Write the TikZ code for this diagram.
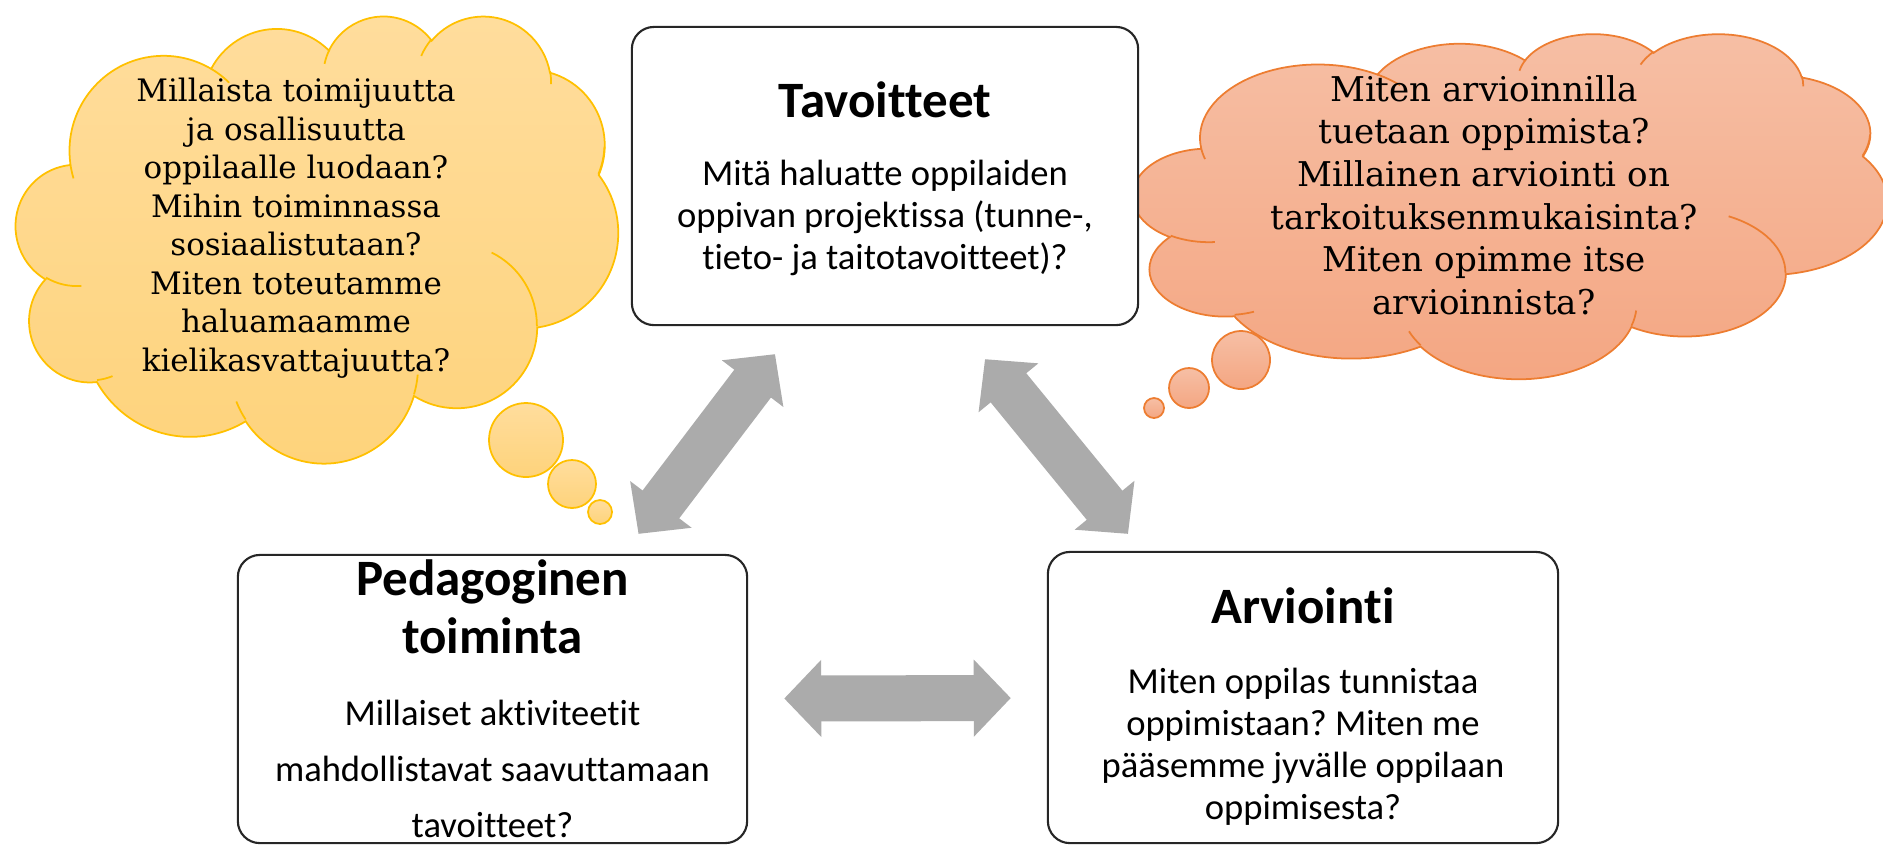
\documentclass[tikz,border=0pt]{standalone}
\usepackage{fontspec}
\setmainfont{Carlito}[Ligatures=CommonOff]
\newfontfamily\cloudfont{DejaVu Serif}
\usetikzlibrary{arrows.meta,calc}
\frenchspacing

\definecolor{goldline}{HTML}{FFC000}
\definecolor{goldtop}{HTML}{FFDD9D}
\definecolor{goldbottom}{HTML}{FED37B}
\definecolor{orangeline}{HTML}{ED7D31}
\definecolor{orangetop}{HTML}{F6BFA5}
\definecolor{orangebottom}{HTML}{F4A682}
\definecolor{arrowgray}{HTML}{ABABAB}

\tikzset{
  % boxes and their texts
  stagebox/.style={draw=black!85, line width=0.6pt, fill=white,
    rounded corners=0.22cm, inner sep=0pt},
  stagetitle/.style={font=\fontsize{14.5}{16.5}\selectfont\bfseries,
    align=center, inner sep=0pt},
  stagetext/.style={font=\fontsize{10.4}{11.95}\selectfont,
    align=center, inner sep=0pt},
  % thought clouds
  goldcloud/.style={draw=goldline, line width=0.5pt,
    top color=goldtop, bottom color=goldbottom},
  orangecloud/.style={draw=orangeline, line width=0.5pt,
    top color=orangetop, bottom color=orangebottom},
  cloudtext/.style={font=\cloudfont\fontsize{8.8}{10.95}\selectfont,
    align=center, inner sep=0pt},
  cloud outline/.style={insert path={(39,143.7)
    \foreach \rx/\ry/\st/\sw
      [evaluate=\st as \ta using {atan2(\rx*sin(\st),\ry*cos(\st))},
       evaluate=\st as \tb using {atan2(\rx*sin((\st)+(\sw)),\ry*cos((\st)+(\sw)))},
       evaluate=\st as \td using {mod(\tb-(\ta)+720,360)}]
      in {67.53/91.90/-190.487/123.781, 53.33/72.67/-144.102/89.945,
          43.65/59.45/-145.808/99.723, 48.57/65.95/-130.986/117.242,
          53.33/72.73/-78.709/109.027, 67.75/92.20/-46.267/130.269,
          57.85/78.67/0.625/114.033, 67.52/92.15/22.452/115.173,
          77.20/105.43/66.243/75.711, 43.60/59.18/-274.942/146.736,
          43.45/59.45/-246.829/152.519}
      { arc[x radius=\rx, y radius=\ry, start angle=\ta, delta angle=\td] }
    -- cycle}},
  cloud creases/.style={insert path={
    \foreach \px/\py/\rx/\ry/\st/\sw
      [evaluate=\st as \ta using {atan2(\rx*sin(\st),\ry*cos(\st))},
       evaluate=\st as \tb using {atan2(\rx*sin((\st)+(\sw)),\ry*cos((\st)+(\sw)))},
       evaluate=\st as \td using {ifthenelse(\sw>0,mod(\tb-(\ta)+720,360),mod(\tb-(\ta)+720,360)-360)}]
      in {46.93/261.77/43.45/59.45/86.742/26.430,
          69.28/348.99/43.60/59.18/73.610/11.447,
          164.78/390.90/67.52/92.15/137.624/14.081,
          288.27/347.51/67.52/92.15/6.453/15.998,
          341.29/229.54/57.85/78.67/-70.292/70.917,
          417.98/153.54/53.33/72.73/30.318/-27.752,
          383.24/54.26/48.57/65.95/-13.744/14.859,
          290.78/39.52/48.57/65.95/-149.181/18.195,
          221.41/47.20/43.65/59.45/-163.494/17.686,
          140.00/51.92/67.53/91.90/-66.707/12.319,
          41.27/157.89/67.53/91.90/157.654/11.858}
      { (\px,\py) arc[x radius=\rx, y radius=\ry, start angle=\ta, delta angle=\td] }
    }},
  % grey double arrows
  twoway/.style={draw=arrowgray, line width=0.46cm,
    {Triangle[width=0.75cm,length=0.37cm]}-{Triangle[width=0.75cm,length=0.37cm]}},
}

\begin{document}
\begin{tikzpicture}[x=0.01cm, y=-0.01cm]
  \useasboundingbox (0,0) rectangle (1883,844);

  % Left cloud
  \begin{scope}[shift={(16,15)}, x=0.01cm, y=0.01cm, xscale=602/432, yscale=-447/432]
    \path[goldcloud] [cloud outline];
    \draw[goldline, line width=0.5pt] [cloud creases];
  \end{scope}
  \path[goldcloud] (526,440) circle[radius=37];
  \path[goldcloud] (572,484) circle[radius=24];
  \path[goldcloud] (600,512) circle[radius=12];
  \node[cloudtext] (agencyq) at (296,228)
    {Millaista toimijuutta\\ja osallisuutta\\oppilaalle luodaan?\\Mihin toiminnassa\\
     sosiaalistutaan?\\Miten toteutamme\\haluamaamme\\kielikasvattajuutta?};

  % Right cloud
  \begin{scope}[shift={(1133,33)}, x=0.01cm, y=0.01cm, xscale=754/432, yscale=-345/432]
    \path[orangecloud] [cloud outline];
    \draw[orangeline, line width=0.5pt] [cloud creases];
  \end{scope}
  \path[orangecloud] (1241,360) circle[radius=29];
  \path[orangecloud] (1189,388) circle[radius=20];
  \path[orangecloud] (1154,408) circle[radius=10];
  \node[cloudtext, font=\cloudfont\fontsize{9.7}{12.1}\selectfont] (assessq) at (1484,195)
    {Miten arvioinnilla\\tuetaan oppimista?\\Millainen arviointi on\\
     tarkoituksenmukaisinta?\\Miten opimme itse\\arvioinnista?};

  % Three boxes
  \node[stagebox, minimum width=5.06cm, minimum height=2.98cm] (goals) at (885,176) {};
  \node[stagebox, minimum width=5.09cm, minimum height=2.88cm] (teaching) at (492.5,699) {};
  \node[stagebox, minimum width=5.10cm, minimum height=2.91cm] (assess) at (1303,697.5) {};

  \node[stagetitle] (goalstitle) at (885,100) {Tavoitteet};
  \node[stagetext] (goalstext) at (885,218)
    {Mitä haluatte oppilaiden\\oppivan projektissa (tunne-,\\tieto- ja taitotavoitteet)?};

  \node[stagetitle] (teachingtitle) at (492.5,607) {Pedagoginen\\toiminta};
  \node[stagetext, font=\fontsize{10.4}{15.9}\selectfont] (teachingtext) at (492.5,769)
    {Millaiset aktiviteetit\\mahdollistavat saavuttamaan\\tavoitteet?};

  \node[stagetitle] (assesstitle) at (1303,605.5) {Arviointi};
  \node[stagetext] (assesstext) at (1303,747)
    {Miten oppilas tunnistaa\\oppimistaan? Miten me\\pääsemme jyvälle oppilaan\\oppimisesta?};

  % Arrows between the boxes
  \draw[twoway] ($(teaching.north)+(146,-20)$) -- ($(goals.south)+(-110,28)$);
  \draw[twoway] ($(goals.south)+(100,33)$) -- ($(assess.north)+(-175,-17)$);
  \draw[twoway, shorten <=0.36cm, shorten >=0.36cm] (teaching) -- (assess);
\end{tikzpicture}
\end{document}
